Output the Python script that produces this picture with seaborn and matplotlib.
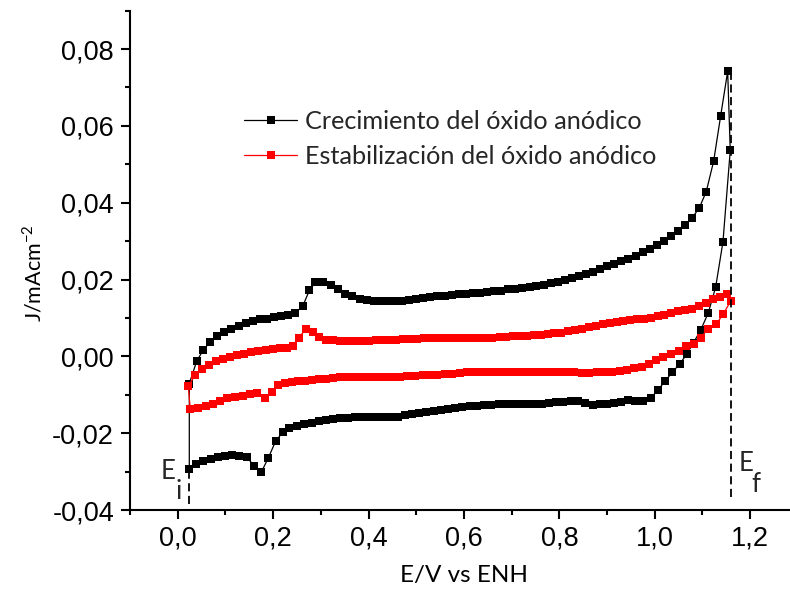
import numpy as np
import pandas as pd
import matplotlib
matplotlib.use("Agg")
import matplotlib.pyplot as plt
from matplotlib.ticker import FuncFormatter, MultipleLocator
import seaborn as sns

# ---------------- data ----------------
series_labels = ["Crecimiento del óxido anódico", "Estabilización del óxido anódico"]
series_colors = ["black", "red"]

black_fwd_x = [0.0243, 0.0397, 0.0537, 0.0678, 0.0831, 0.0972, 0.1125, 0.1278, 0.1433, 0.1572,
               0.1727, 0.1880, 0.2021, 0.2174, 0.2315, 0.2468, 0.2621, 0.2762, 0.2888, 0.3041,
               0.3203, 0.3356, 0.3511, 0.3650, 0.3811, 0.3958, 0.4105, 0.4252, 0.4399, 0.4539,
               0.4693, 0.4839, 0.4986, 0.5140, 0.5295, 0.5442, 0.5595, 0.5742, 0.5889, 0.6036,
               0.6183, 0.6330, 0.6483, 0.6630, 0.6785, 0.6932, 0.7079, 0.7226, 0.7379, 0.7519,
               0.7673, 0.7820, 0.7966, 0.8113, 0.8260, 0.8407, 0.8554, 0.8707, 0.8854, 0.9001,
               0.9148, 0.9295, 0.9442, 0.9597, 0.9744, 0.9891, 1.0038, 1.0185, 1.0338, 1.0485,
               1.0632, 1.0779, 1.0932, 1.1079, 1.1234, 1.1381, 1.1528]
black_fwd_j = [-0.0071, -0.0013, 0.0017, 0.0037, 0.0052, 0.0063, 0.0072, 0.0080, 0.0087, 0.0091,
               0.0096, 0.0098, 0.0102, 0.0105, 0.0108, 0.0113, 0.0131, 0.0172, 0.0193, 0.0193,
               0.0185, 0.0174, 0.0163, 0.0156, 0.0150, 0.0146, 0.0144, 0.0144, 0.0143, 0.0144,
               0.0145, 0.0147, 0.0148, 0.0151, 0.0154, 0.0156, 0.0158, 0.0160, 0.0161, 0.0162,
               0.0165, 0.0166, 0.0167, 0.0169, 0.0171, 0.0174, 0.0174, 0.0177, 0.0180, 0.0184,
               0.0187, 0.0190, 0.0193, 0.0199, 0.0203, 0.0209, 0.0214, 0.0220, 0.0227, 0.0234,
               0.0240, 0.0247, 0.0254, 0.0262, 0.0272, 0.0280, 0.0291, 0.0301, 0.0312, 0.0325,
               0.0341, 0.0360, 0.0386, 0.0429, 0.0508, 0.0626, 0.0742]

black_rev_x = [1.1582, 1.1429, 1.1276, 1.1121, 1.0961, 1.0814, 1.0667, 1.0527, 1.0365, 1.0212,
               1.0065, 0.9918, 0.9757, 0.9582, 0.9435, 0.9295, 0.9148, 0.9001, 0.8842, 0.8695,
               0.8533, 0.8386, 0.8239, 0.8086, 0.7939, 0.7784, 0.7631, 0.7484, 0.7331, 0.7175,
               0.7028, 0.6875, 0.6728, 0.6575, 0.6428, 0.6273, 0.6134, 0.5966, 0.5811, 0.5664,
               0.5511, 0.5364, 0.5211, 0.5064, 0.4909, 0.4762, 0.4615, 0.4462, 0.4315, 0.4162,
               0.4015, 0.3868, 0.3712, 0.3566, 0.3412, 0.3259, 0.3112, 0.2965, 0.2810, 0.2657,
               0.2504, 0.2342, 0.2201, 0.2055, 0.1901, 0.1754, 0.1601, 0.1446, 0.1293, 0.1140,
               0.0984, 0.0837, 0.0690, 0.0537, 0.0384, 0.0243]
black_rev_j = [0.0536, 0.0298, 0.0180, 0.0113, 0.0068, 0.0036, 0.0005, -0.0019, -0.0042, -0.0065,
               -0.0088, -0.0108, -0.0116, -0.0117, -0.0114, -0.0119, -0.0121, -0.0123, -0.0125, -0.0126,
               -0.0121, -0.0117, -0.0116, -0.0118, -0.0120, -0.0121, -0.0123, -0.0124, -0.0124, -0.0124,
               -0.0124, -0.0124, -0.0125, -0.0126, -0.0127, -0.0128, -0.0130, -0.0132, -0.0134, -0.0137,
               -0.0140, -0.0142, -0.0146, -0.0148, -0.0151, -0.0154, -0.0157, -0.0158, -0.0157, -0.0158,
               -0.0158, -0.0159, -0.0159, -0.0160, -0.0161, -0.0163, -0.0165, -0.0168, -0.0173, -0.0176,
               -0.0181, -0.0186, -0.0198, -0.0220, -0.0264, -0.0301, -0.0285, -0.0262, -0.0259, -0.0258,
               -0.0259, -0.0262, -0.0267, -0.0273, -0.0279, -0.0292]

red_fwd_x = [0.0222, 0.0363, 0.0516, 0.0663, 0.0810, 0.0957, 0.1098, 0.1244, 0.1398, 0.1545,
             0.1692, 0.1845, 0.1992, 0.2139, 0.2285, 0.2411, 0.2537, 0.2684, 0.2831, 0.2972,
             0.3112, 0.3265, 0.3412, 0.3559, 0.3706, 0.3853, 0.4000, 0.4147, 0.4294, 0.4434,
             0.4581, 0.4720, 0.4861, 0.5007, 0.5154, 0.5295, 0.5442, 0.5580, 0.5721, 0.5868,
             0.6015, 0.6162, 0.6302, 0.6455, 0.6596, 0.6749, 0.6890, 0.7028, 0.7169, 0.7316,
             0.7463, 0.7610, 0.7756, 0.7897, 0.8044, 0.8183, 0.8330, 0.8476, 0.8617, 0.8764,
             0.8905, 0.9051, 0.9198, 0.9337, 0.9478, 0.9618, 0.9765, 0.9912, 1.0059, 1.0198,
             1.0344, 1.0485, 1.0632, 1.0779, 1.0925, 1.1072, 1.1222, 1.1363, 1.1507]
red_fwd_j = [-0.0078, -0.0049, -0.0034, -0.0023, -0.0012, -0.0007, -0.0002, 0.0003, 0.0007, 0.0010,
             0.0014, 0.0016, 0.0019, 0.0021, 0.0023, 0.0028, 0.0049, 0.0070, 0.0063, 0.0050,
             0.0043, 0.0042, 0.0040, 0.0040, 0.0039, 0.0040, 0.0041, 0.0042, 0.0042, 0.0042,
             0.0043, 0.0044, 0.0044, 0.0046, 0.0047, 0.0048, 0.0048, 0.0049, 0.0049, 0.0049,
             0.0049, 0.0049, 0.0049, 0.0049, 0.0049, 0.0050, 0.0051, 0.0052, 0.0052, 0.0054,
             0.0055, 0.0055, 0.0057, 0.0060, 0.0062, 0.0065, 0.0068, 0.0072, 0.0076, 0.0080,
             0.0083, 0.0086, 0.0089, 0.0091, 0.0094, 0.0096, 0.0098, 0.0101, 0.0104, 0.0108,
             0.0113, 0.0117, 0.0120, 0.0124, 0.0130, 0.0138, 0.0148, 0.0155, 0.0161]

red_rev_x = [1.1597, 1.1435, 1.1289, 1.1121, 1.0961, 1.0814, 1.0653, 1.0500, 1.0338, 1.0176,
             1.0023, 0.9876, 0.9723, 0.9568, 0.9408, 0.9268, 0.9100, 0.8947, 0.8785, 0.8623,
             0.8464, 0.8317, 0.8162, 0.8002, 0.7847, 0.7694, 0.7540, 0.7385, 0.7238, 0.7079,
             0.6923, 0.6764, 0.6609, 0.6449, 0.6294, 0.6187, 0.6071, 0.5916, 0.5757, 0.5601,
             0.5442, 0.5286, 0.5133, 0.4972, 0.4812, 0.4657, 0.4504, 0.4350, 0.4195, 0.4042,
             0.3889, 0.3727, 0.3574, 0.3412, 0.3259, 0.3112, 0.2972, 0.2818, 0.2672, 0.2531,
             0.2390, 0.2252, 0.2105, 0.1971, 0.1824, 0.1671, 0.1517, 0.1362, 0.1194, 0.1041,
             0.0888, 0.0741, 0.0586, 0.0426, 0.0264]
red_rev_j = [0.0145, 0.0110, 0.0084, 0.0072, 0.0049, 0.0033, 0.0027, 0.0014, 0.0007, -0.0002,
             -0.0010, -0.0019, -0.0028, -0.0030, -0.0035, -0.0038, -0.0042, -0.0042, -0.0042, -0.0043,
             -0.0043, -0.0041, -0.0041, -0.0041, -0.0040, -0.0040, -0.0040, -0.0040, -0.0040, -0.0041,
             -0.0041, -0.0042, -0.0042, -0.0042, -0.0042, -0.0042, -0.0042, -0.0044, -0.0045, -0.0046,
             -0.0048, -0.0049, -0.0049, -0.0050, -0.0051, -0.0053, -0.0054, -0.0054, -0.0054, -0.0054,
             -0.0055, -0.0055, -0.0055, -0.0055, -0.0057, -0.0059, -0.0060, -0.0061, -0.0063, -0.0065,
             -0.0067, -0.0069, -0.0075, -0.0093, -0.0109, -0.0095, -0.0097, -0.0102, -0.0105, -0.0109,
             -0.0116, -0.0125, -0.0129, -0.0134, -0.0138]

E_i = 0.0243
E_f = 1.159

x_ticks = [0.0, 0.2, 0.4, 0.6, 0.8, 1.0, 1.2]
y_ticks = [-0.04, -0.02, 0.00, 0.02, 0.04, 0.06, 0.08]

# ---------------- build table ----------------
frames = []
for lab, fx, fj, rx, rj in [
    (series_labels[0], black_fwd_x, black_fwd_j, black_rev_x, black_rev_j),
    (series_labels[1], red_fwd_x, red_fwd_j, red_rev_x, red_rev_j),
]:
    xs = list(fx) + list(rx) + [fx[0]]
    js = list(fj) + list(rj) + [fj[0]]
    frames.append(pd.DataFrame({"E": xs, "J": js, "serie": lab}))
df = pd.concat(frames, ignore_index=True)

# ---------------- style ----------------
sns.set_theme(style="ticks")
plt.rcParams["font.family"] = ["Lato", "DejaVu Sans"]
plt.rcParams["mathtext.fontset"] = "custom"
plt.rcParams["mathtext.rm"] = "Lato"

fig = plt.figure(figsize=(7.9, 6.02), dpi=100)
ax = fig.add_axes([130 / 790, 92 / 602, 667.9 / 790, 499.4 / 602])

sns.lineplot(data=df, x="E", y="J", hue="serie", hue_order=series_labels,
             palette=dict(zip(series_labels, series_colors)),
             sort=False, estimator=None, legend=False, ax=ax,
             marker="s", markersize=5.2, markeredgewidth=0, linewidth=0.9)

# dashed E_i / E_f markers
ax.plot([E_i, E_i], [-0.0385, black_rev_j[-1]], color="black", lw=1.3, dashes=(4.5, 2.5))
ax.plot([E_f, E_f], [-0.0367, max(black_fwd_j)], color="black", lw=1.3, dashes=(4.5, 2.5))

ax.text(-0.0350, -0.0299, "E", fontsize=18.5, va="center", ha="left")
ax.text(-0.0052, -0.0352, "i", fontsize=18.5, va="center", ha="left")
ax.text(1.1760, -0.0280, "E", fontsize=18.5, va="center", ha="left")
ax.text(1.2025, -0.0334, "f", fontsize=18.5, va="center", ha="left")

ax.set_xlim(-0.1, 1.3)
ax.set_ylim(-0.04, 0.09)
ax.set_xticks(x_ticks)
ax.set_yticks(y_ticks)
ax.xaxis.set_minor_locator(MultipleLocator(0.1))
ax.yaxis.set_minor_locator(MultipleLocator(0.01))


def fmt(dec):
    def f(v, pos):
        if abs(v) < 1e-12:
            v = 0.0
        return f"{v:.{dec}f}".replace(".", ",")
    return FuncFormatter(f)


ax.xaxis.set_major_formatter(fmt(1))
ax.yaxis.set_major_formatter(fmt(2))

for s in ["top", "right"]:
    ax.spines[s].set_visible(False)
for s in ["left", "bottom"]:
    ax.spines[s].set_linewidth(1.5)
    ax.spines[s].set_color("black")

ax.tick_params(which="major", direction="out", length=6.5, width=1.5, color="black",
               labelsize=19.5, labelfontfamily="Liberation Sans", labelcolor="black")
ax.tick_params(which="minor", direction="out", length=3.8, width=1.5, color="black")
ax.tick_params(axis="x", which="major", pad=4.5)
ax.tick_params(axis="y", which="major", pad=5)

ax.set_xlabel("E/V vs ENH", fontsize=17.5, color="black", labelpad=10)
ax.set_ylabel(r"J/mAcm$^{\mathregular{-2}}$", fontsize=15.5, color="black")
ax.yaxis.set_label_coords(-0.127, 0.475)
ax.grid(False)

leg = ax.legend(handles=ax.lines[:2], labels=series_labels, frameon=False,
                loc="upper left", bbox_to_anchor=(244 / 790, 1 - 110 / 602),
                bbox_transform=fig.transFigure, fontsize=18.2,
                handlelength=2.1, handletextpad=0.33, labelspacing=0.46,
                borderpad=0, borderaxespad=0)
for h in leg.legend_handles:
    h.set_markersize(5.2)

fig.savefig("out.png", dpi=100)
